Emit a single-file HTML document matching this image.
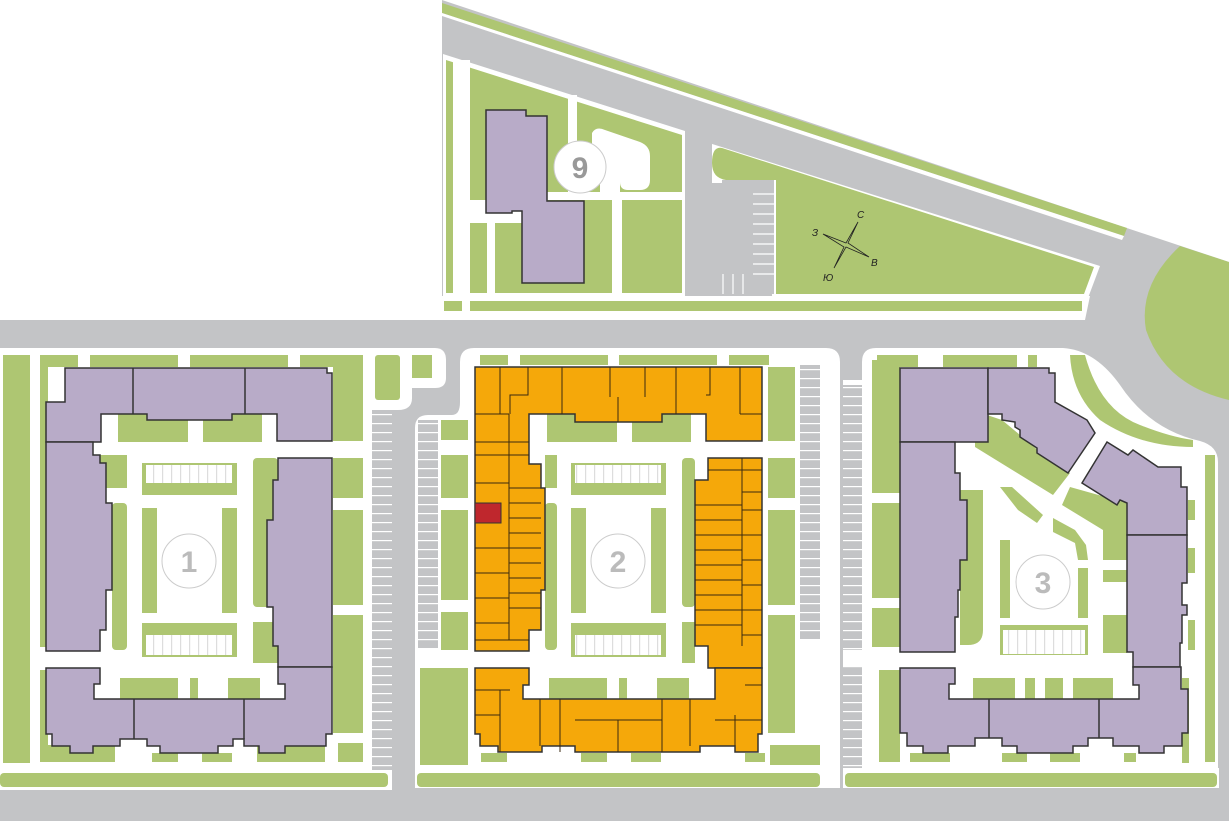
<!DOCTYPE html>
<html><head><meta charset="utf-8"><style>
html,body{margin:0;padding:0;background:#fff;}
svg{display:block;font-family:"Liberation Sans",sans-serif;}
</style></head><body>
<svg width="1229" height="821" viewBox="0 0 1229 821" xmlns="http://www.w3.org/2000/svg">
<defs>
<pattern id="pk" width="20" height="9" patternUnits="userSpaceOnUse"><rect width="20" height="9" fill="#c3c4c6"/><rect y="0" width="20" height="1.2" fill="#fff"/></pattern>
<pattern id="pv" width="9" height="20" patternUnits="userSpaceOnUse"><rect width="9" height="20" fill="#fff"/><rect x="0" width="1.2" height="20" fill="#ddd"/></pattern>
</defs>
<rect width="1229" height="821" fill="#fff"/>
<polygon points="442,0 1229,262 1229,821 0,821 0,320 442,320" fill="#c3c4c6"/>
<polygon points="442,3 1127,228 1124,236 442,13" fill="#aec672"/>
<polygon points="442,13 1124,236 1122,240 442,16" fill="#fff"/>
<polygon points="443,54 685,131 685,296 443,296" fill="#fff"/>
<polygon points="446,60 682,135 682,293 446,293" fill="#aec672"/>
<g fill="#fff">
<rect x="453" y="60" width="17" height="236"/>
<rect x="453" y="200" width="95" height="23"/>
<rect x="487" y="223" width="8" height="73"/>
<rect x="568" y="95" width="9" height="105"/>
<rect x="546" y="192" width="136" height="8"/>
<rect x="612" y="195" width="10" height="101"/>
<path d="M592,133 Q596,126 605,130 L640,142 Q650,146 650,156 V180 Q650,190 640,190 H628 Q620,190 620,182 V195 H600 V182 Q592,178 592,170 Z"/>
</g>
<polygon points="709,143 1100,266 1088,298 772,298 772,183 709,183" fill="#fff"/>
<path d="M722,148 L1094,267 L1084,294 L776,294 L776,180 L726,180 Q712,178 712,163 Q712,146 722,148 Z" fill="#aec672"/>
<rect x="722" y="180" width="52" height="114" fill="#c3c4c6"/>
<g stroke="#fff" stroke-width="1.2">
<line x1="753" y1="194" x2="774" y2="194"/><line x1="753" y1="204" x2="774" y2="204"/><line x1="753" y1="214" x2="774" y2="214"/><line x1="753" y1="224" x2="774" y2="224"/><line x1="753" y1="234" x2="774" y2="234"/><line x1="753" y1="244" x2="774" y2="244"/><line x1="753" y1="254" x2="774" y2="254"/><line x1="753" y1="264" x2="774" y2="264"/><line x1="753" y1="274" x2="774" y2="274"/>
<line x1="723" y1="274" x2="723" y2="294"/><line x1="733" y1="274" x2="733" y2="294"/><line x1="743" y1="274" x2="743" y2="294"/>
</g>
<rect x="442" y="296" width="648" height="24" fill="#fff"/>
<rect x="444" y="301" width="18" height="10" fill="#aec672"/>
<rect x="470" y="301" width="612" height="10" fill="#aec672"/>
<rect x="685" y="130" width="27" height="166" fill="#c3c4c6"/>
<path d="M1090,296 Q1098,300 1100,275 L1100,320 L1085,320 Z" fill="#c3c4c6"/>
<path d="M1180,246 L1229,262 V400 Q1165,385 1146,330 Q1138,285 1180,246 Z" fill="#aec672"/>
<polygon points="486,110 526,110 526,116 547,116 547,201 584,201 584,283 522,283 522,211 512,211 512,213 486,213" fill="#b8abc8" stroke="#333" stroke-width="1.5"/>
<circle cx="580" cy="167" r="26" fill="#fff" stroke="#ccc" stroke-width="1"/>
<text x="580" y="178" font-size="30" fill="#999" text-anchor="middle" font-weight="bold">9</text>
<g fill="#222" stroke="#222" stroke-width="0.8">
<polygon points="858,222 848,243 869,257 846,247 834,268 844,247 823,234 846,243" fill="none"/>
</g>
<g font-size="10" fill="#222" font-style="italic">
<text x="857" y="218">С</text><text x="871" y="266">В</text><text x="823" y="281">Ю</text><text x="812" y="236">З</text>
</g>

<!-- BLOCK 1 -->
<rect x="0" y="348" width="372" height="440" fill="#fff"/>
<path d="M372,348 H400 Q412,348 412,360 V398 Q412,410 398,410 H372 Z" fill="#fff"/>
<path d="M400,348 H435 Q446,348 446,360 V378 Q446,388 435,388 H400 Z" fill="#fff"/>
<rect x="412" y="355" width="20" height="23" fill="#aec672"/>
<rect x="0" y="768" width="392" height="22" fill="#fff"/>
<rect x="0" y="773" width="388" height="14" rx="4" fill="#aec672"/>
<rect x="372" y="410" width="20" height="360" fill="url(#pk)"/>
<g fill="#aec672">
<rect x="3" y="355" width="27" height="408"/>
<rect x="40" y="355" width="38" height="12"/><rect x="90" y="355" width="88" height="12"/><rect x="190" y="355" width="98" height="12"/><rect x="300" y="355" width="63" height="12"/>
<rect x="40" y="367" width="8" height="280"/><rect x="40" y="670" width="8" height="75"/>
<rect x="375" y="355" width="25" height="45" rx="3"/>
<rect x="118" y="414" width="70" height="28"/><rect x="203" y="414" width="59" height="28"/>
<rect x="100" y="455" width="27" height="33"/><rect x="112" y="503" width="15" height="147" rx="4"/>
<rect x="142" y="463" width="95" height="32"/>
<rect x="142" y="508" width="15" height="105"/><rect x="222" y="508" width="15" height="105"/>
<rect x="253" y="458" width="25" height="149" rx="4"/><rect x="253" y="622" width="25" height="41"/>
<rect x="142" y="623" width="95" height="34"/>
<rect x="120" y="678" width="58" height="21"/><rect x="190" y="678" width="8" height="21"/><rect x="228" y="678" width="32" height="21"/>
<rect x="333" y="355" width="30" height="86"/><rect x="333" y="458" width="30" height="40"/><rect x="333" y="510" width="30" height="95"/><rect x="333" y="615" width="30" height="118"/><rect x="338" y="743" width="25" height="19"/>
<rect x="40" y="745" width="75" height="17"/><rect x="152" y="753" width="26" height="9"/><rect x="202" y="753" width="30" height="9"/><rect x="257" y="745" width="68" height="17"/>
</g>
<rect x="146" y="465" width="86" height="18" fill="url(#pv)"/>
<rect x="146" y="635" width="86" height="20" fill="url(#pv)"/>
<g fill="#b8abc8" stroke="#333" stroke-width="1.5">
<polygon points="65,368 327,368 327,373 332,373 332,441 277,441 277,414 232,414 232,420 147,420 147,414 101,414 101,442 46,442 46,402 65,402"/>
<polygon points="46,442 93,442 93,455 100,455 100,463 106,463 106,503 112,503 112,590 106,590 106,630 100,630 100,651 46,651"/>
<polygon points="278,458 332,458 332,667 278,667 278,646 273,646 273,607 267,607 267,520 273,520 273,480 278,480"/>
<polygon points="46,668 100,668 100,684 94,684 94,699 285,699 285,684 278,684 278,667 332,667 332,734 326,734 326,746 285,746 285,753 259,753 259,746 244,746 244,739 233,739 233,746 218,746 218,753 160,753 160,746 147,746 147,739 120,739 120,746 93,746 93,753 70,753 70,746 52,746 52,734 46,734"/>
</g>
<g stroke="#333" stroke-width="1.5">
<line x1="133" y1="368" x2="133" y2="414"/><line x1="245" y1="368" x2="245" y2="414"/>
<line x1="134" y1="699" x2="134" y2="739"/><line x1="244" y1="699" x2="244" y2="739"/>
</g>
<circle cx="189" cy="561" r="27" fill="#fff" stroke="#ccc"/>
<text x="189" y="572" font-size="30" fill="#bbb" text-anchor="middle" font-weight="bold">1</text>

<!-- BLOCK 2 -->
<path d="M474,348 H826 Q840,348 840,362 V788 H415 V428 Q415,415 428,415 H452 Q460,415 460,402 V362 Q460,348 474,348 Z" fill="#fff"/>
<rect x="417" y="773" width="403" height="14" rx="4" fill="#aec672"/>
<rect x="418" y="420" width="20" height="228" fill="url(#pk)"/>
<rect x="800" y="365" width="20" height="275" fill="url(#pk)"/>
<g fill="#aec672">
<rect x="441" y="420" width="27" height="20"/><rect x="441" y="455" width="27" height="43"/><rect x="441" y="510" width="27" height="90"/><rect x="441" y="612" width="27" height="38"/>
<rect x="420" y="668" width="48" height="97"/>
<rect x="480" y="355" width="28" height="10"/><rect x="520" y="355" width="88" height="10"/><rect x="619" y="355" width="98" height="10"/><rect x="729" y="355" width="40" height="10"/>
<rect x="768" y="367" width="27" height="74"/><rect x="768" y="458" width="27" height="40"/><rect x="768" y="510" width="27" height="95"/><rect x="768" y="615" width="27" height="118"/><rect x="770" y="745" width="50" height="20"/>
<rect x="547" y="414" width="70" height="28"/><rect x="632" y="414" width="59" height="28"/>
<rect x="545" y="455" width="12" height="33"/><rect x="545" y="503" width="12" height="147" rx="4"/>
<rect x="571" y="463" width="95" height="32"/>
<rect x="571" y="508" width="15" height="105"/><rect x="651" y="508" width="15" height="105"/>
<rect x="682" y="458" width="13" height="149" rx="4"/><rect x="682" y="622" width="13" height="41"/>
<rect x="571" y="623" width="95" height="34"/>
<rect x="549" y="678" width="58" height="21"/><rect x="619" y="678" width="8" height="21"/><rect x="657" y="678" width="32" height="21"/>
<rect x="481" y="753" width="26" height="9"/><rect x="581" y="753" width="26" height="9"/><rect x="631" y="753" width="30" height="9"/><rect x="745" y="753" width="20" height="9"/>
</g>
<rect x="575" y="465" width="86" height="18" fill="url(#pv)"/>
<rect x="575" y="635" width="86" height="20" fill="url(#pv)"/>
<g fill="#f5a80a" stroke="#333" stroke-width="1.5">
<polygon points="475,367 762,367 762,441 706,441 706,414 662,414 662,422 575,422 575,414 529,414 529,464 541,464 541,488 545,488 545,590 541,590 541,630 529,630 529,651 475,651"/>
<polygon points="708,458 762,458 762,668 708,668 708,646 695,646 695,480 708,480"/>
<polygon points="475,668 529,668 529,685 523,685 523,699 715,699 715,668 762,668 762,734 758,734 758,752 735,752 735,746 700,746 700,752 575,752 575,746 542,746 542,752 498,752 498,746 480,746 480,734 475,734"/>
</g>
<rect x="475" y="503" width="26" height="20" fill="#bf272d" stroke="#333" stroke-width="1"/>
<g stroke="#3a2a10" stroke-width="1" fill="none">
<path d="M475,414 H509 M475,442 H529 M475,455 H529 M475,483 H509 M475,548 H509 M475,573 H509 M475,598 H509 M475,623 H509 M475,640 H529"/>
<path d="M509,414 V640 M509,488 H541 M509,503 H541 M509,518 H541 M509,533 H541 M509,548 H541 M509,563 H541 M509,578 H541 M509,593 H541 M509,608 H541"/>
<path d="M500,367 V414 M528,367 V395 H510 V414 M562,367 V414 M610,367 V397 M618,397 V422 M645,367 V397 M676,367 V414 M710,367 V395 H706 M740,367 V414 M740,414 H762"/>
<path d="M742,458 V646 M708,470 H762 M742,492 H762 M742,510 H762 M742,535 H762 M742,560 H762 M742,585 H762 M742,610 H762 M742,635 H762"/>
<path d="M695,505 H742 M695,520 H742 M695,535 H742 M695,550 H742 M695,565 H742 M695,580 H742 M695,595 H742 M695,610 H742 M695,625 H742"/>
<path d="M475,690 H510 M475,715 H500 M500,690 V752 M540,699 V746 M560,699 V752 M575,720 H662 M618,720 V752 M662,699 V752 M690,699 V746 M715,720 H762 M735,715 V746 M745,685 H762"/>
</g>
<circle cx="618" cy="561" r="27" fill="#fff" stroke="#ccc"/>
<text x="618" y="572" font-size="30" fill="#bbb" text-anchor="middle" font-weight="bold">2</text>

<!-- BLOCK 3 -->
<path d="M876,348 H1063 Q1095,350 1120,385 Q1150,430 1200,441 Q1218,446 1218,462 V788 H862 V362 Q862,348 876,348 Z" fill="#fff"/>
<rect x="843" y="380" width="19" height="390" fill="url(#pk)"/>
<rect x="843" y="380" width="27" height="5" fill="#fff"/>
<rect x="843" y="650" width="27" height="16" fill="#fff"/>
<rect x="843" y="768" width="376" height="20" fill="#fff"/>
<rect x="845" y="773" width="372" height="14" rx="4" fill="#aec672"/>
<g fill="#aec672">
<rect x="877" y="355" width="41" height="12"/><rect x="943" y="355" width="74" height="12"/><rect x="1028" y="355" width="9" height="12"/>
<rect x="872" y="360" width="28" height="133"/><rect x="872" y="503" width="28" height="95"/><rect x="872" y="608" width="28" height="39"/><rect x="879" y="670" width="21" height="92"/>
<path d="M1070,355 L1085,355 Q1100,410 1140,425 Q1170,437 1193,440 L1193,447 Q1140,447 1100,420 Q1072,395 1070,355 Z"/>
<rect x="1205" y="455" width="10" height="307"/>
<rect x="1188" y="500" width="7" height="20"/><rect x="1188" y="548" width="7" height="25"/><rect x="1188" y="620" width="7" height="30"/><rect x="1182" y="678" width="7" height="85"/>
<polygon points="975,415 987,415 1002,420 1020,435 1040,452 1070,473 1053,495 975,447"/>
<path d="M960,490 H983 V630 Q983,645 968,645 H960 Z"/>
<polygon points="1000,487 1012,487 1043,515 1037,523 1018,510 Q1010,510 1010,522 L1010,533 1000,533"/>
<rect x="1000" y="540" width="10" height="78"/>
<polygon points="1053,518 1075,530 1086,545 1088,560 1078,560 1075,543 1053,532"/>
<polygon points="1070,487 1127,503 1127,560 1103,560 1103,530 1062,505"/>
<rect x="1078" y="568" width="10" height="50"/>
<rect x="1103" y="570" width="24" height="12"/><rect x="1103" y="615" width="24" height="38"/>
<rect x="1000" y="625" width="88" height="30"/>
<rect x="973" y="678" width="42" height="21"/><rect x="1025" y="678" width="10" height="21"/><rect x="1045" y="678" width="18" height="21"/><rect x="1073" y="678" width="40" height="21"/>
<rect x="910" y="753" width="40" height="9"/><rect x="1002" y="753" width="25" height="9"/><rect x="1050" y="753" width="30" height="9"/><rect x="1124" y="753" width="12" height="9"/>
</g>
<rect x="1003" y="630" width="82" height="24" fill="url(#pv)"/>
<g fill="#b8abc8" stroke="#333" stroke-width="1.5">
<rect x="900" y="368" width="88" height="74"/>
<polygon points="900,442 955,442 955,473 960,473 960,500 967,500 967,560 960,560 960,590 958,590 958,617 955,617 955,652 900,652"/>
<polygon points="988,368 1049,368 1049,373 1055,373 1055,402 1087,420 1095,433 1068,473 1037,453 1037,448 1020,437 1020,430 1015,427 1015,422 1002,420 1002,414 988,414"/>
<polygon points="1107,442 1128,455 1133,450 1158,467 1181,467 1181,487 1187,487 1187,535 1127,535 1127,503 1120,500 1117,505 1082,483"/>
<polygon points="1127,535 1187,535 1187,583 1182,583 1182,605 1187,605 1187,615 1182,615 1182,643 1180,643 1180,667 1133,667 1133,652 1127,652"/>
<polygon points="900,668 955,668 955,684 949,684 949,699 1139,699 1139,685 1133,685 1133,667 1181,667 1181,689 1188,689 1188,733 1182,733 1182,746 1164,746 1164,753 1139,753 1139,746 1113,746 1113,738 1088,738 1088,746 1073,746 1073,753 1017,753 1017,746 1002,746 1002,738 975,738 975,746 948,746 948,753 923,753 923,746 907,746 907,733 900,733"/>
</g>
<g stroke="#333" stroke-width="1.5">
<line x1="989" y1="699" x2="989" y2="738"/><line x1="1099" y1="699" x2="1099" y2="738"/>
</g>
<circle cx="1043" cy="582" r="27" fill="#fff" stroke="#ccc"/>
<text x="1043" y="593" font-size="30" fill="#bbb" text-anchor="middle" font-weight="bold">3</text>
</svg>
</body></html>
